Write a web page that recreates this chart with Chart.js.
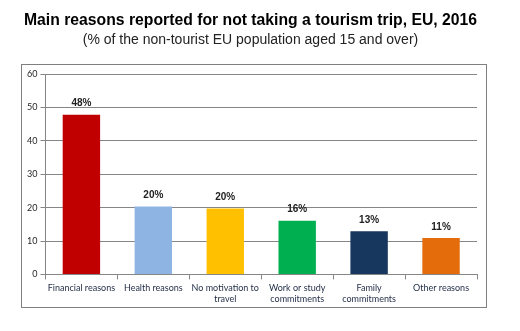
<!DOCTYPE html>
<html>
<head>
<meta charset="utf-8">
<script src="https://cdn.jsdelivr.net/npm/chart.js@4"></script>
<style>
  html, body { margin: 0; padding: 0; background: #fff; }
  #wrap { width: 520px; height: 331px; }
</style>
</head>
<body>
<div id="wrap"><canvas id="reasonsChart" width="520" height="331"></canvas></div>
<script>
const categories = ['Financial reasons', 'Health reasons', ['No motivation to', 'travel'], ['Work or study', 'commitments'], ['Family', 'commitments'], 'Other reasons'];
const shares = [47.8, 20.3, 19.7, 16.1, 12.9, 10.9];
const shareLabels = ['48%', '20%', '20%', '16%', '13%', '11%'];
const barColors = ['#C00000', '#8EB4E3', '#FFC000', '#00B050', '#17375E', '#E46C0A'];
const yTicks = [0, 10, 20, 30, 40, 50, 60];

// frame around the plot, as in the original
const frame = {
  id: 'frame',
  afterDraw(chart) {
    const c = chart.ctx;
    c.save();
    c.strokeStyle = '#7f7f7f';
    c.lineWidth = 1;
    c.strokeRect(21.5, 64.5, 465, 243);
    c.restore();
  }
};

// value labels above the bars
const barValues = {
  id: 'barValues',
  afterDatasetsDraw(chart) {
    const c = chart.ctx;
    const meta = chart.getDatasetMeta(0);
    c.save();
    c.font = 'bold 10px "Liberation Sans", Arial, sans-serif';
    c.fillStyle = '#222';
    c.textAlign = 'center';
    c.textBaseline = 'bottom';
    meta.data.forEach((bar, i) => {
      c.fillText(shareLabels[i], bar.x, bar.y - 6);
    });
    c.restore();
  }
};

const ctx = document.getElementById('reasonsChart').getContext('2d');
new Chart(ctx, {
  type: 'bar',
  data: {
    labels: categories,
    datasets: [{
      data: shares,
      backgroundColor: barColors,
      borderWidth: 0,
      barPercentage: 0.52,
      categoryPercentage: 1
    }]
  },
  options: {
    responsive: false,
    animation: false,
    layout: { padding: { left: 24, right: 43, top: 0, bottom: 24 } },
    scales: {
      y: {
        min: 0,
        max: 60,
        afterBuildTicks(axis) { axis.ticks = yTicks.map(v => ({ value: v })); },
        ticks: {
          color: '#262626',
          font: { family: 'Lato, "Liberation Sans", sans-serif', size: 9 },
          padding: 3
        },
        grid: { color: '#868686', lineWidth: 1, tickLength: 5 },
        border: { color: '#868686' }
      },
      x: {
        ticks: {
          color: '#1f2a44',
          font: { family: 'Lato, "Liberation Sans", sans-serif', size: 9 },
          maxRotation: 0,
          autoSkip: false,
          padding: 3
        },
        grid: { drawOnChartArea: false, color: '#868686', tickLength: 5, offset: true },
        border: { color: '#868686' }
      }
    },
    plugins: {
      legend: { display: false },
      tooltip: { enabled: false },
      title: {
        display: true,
        text: 'Main reasons reported for not taking a tourism trip, EU, 2016',
        color: '#000',
        font: { family: '"Liberation Sans", Arial, sans-serif', size: 16, weight: 'bold' },
        padding: { top: 11, bottom: 2 }
      },
      subtitle: {
        display: true,
        text: '(% of the non-tourist EU population aged 15 and over)',
        color: '#222',
        font: { family: '"Liberation Sans", Arial, sans-serif', size: 14 },
        padding: { top: 0, bottom: 25 }
      }
    }
  },
  plugins: [frame, barValues]
});
</script>
</body>
</html>
